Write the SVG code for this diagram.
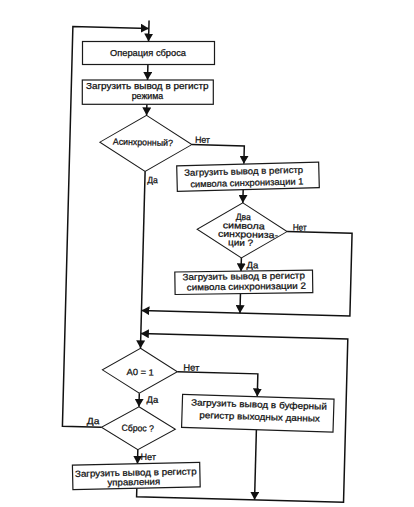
<svg xmlns="http://www.w3.org/2000/svg" width="414" height="507" viewBox="0 0 414 507">
<style>
.box{fill:#fff;stroke:#1a1a1a;stroke-width:1.2}
.dia{fill:#fff;stroke:#1a1a1a;stroke-width:1}
.ln{fill:none;stroke:#111;stroke-width:1.5}
.arr{marker-end:url(#ah)}
text{font-family:"Liberation Sans",Arial,sans-serif;font-size:9px;fill:#111;stroke:#111;stroke-width:0.25}
.c{text-anchor:middle}
</style>
<defs>
<marker id="ah" markerUnits="userSpaceOnUse" markerWidth="8" markerHeight="9" refX="8" refY="4.5" orient="auto" viewBox="0 0 8 9"><path d="M0,0L8,4.5L0,9z" fill="#111"/></marker>
</defs>
<rect width="414" height="507" fill="#fff"/>
<g transform="rotate(1.5 207 253)">
<g id="connectors">
<path class="ln arr" d="M143,22V43.1"/>
<path class="ln arr" d="M143,66V81.6"/>
<path class="ln arr" d="M143,105.9V117"/>
<path class="ln arr" d="M189,145H241.5V162.9"/>
<path class="ln arr" d="M241.5,188.6V202"/>
<path class="ln arr" d="M241.5,257V270.5"/>
<path class="ln arr" d="M241.5,292.6V312.3"/>
<path class="ln arr" d="M286.5,229.5H351.5V312.3H143"/>
<path class="ln arr" d="M143,173V350"/>
<path class="ln arr" d="M180.5,372.5H261V395.1"/>
<path class="ln arr" d="M143,395V408.5"/>
<path class="ln arr" d="M261,428.6V498.5"/>
<path class="ln arr" d="M143,451.5V465.5"/>
<path class="ln arr" d="M143,490V498.5H350V335.3H143"/>
<path class="ln arr" d="M106,430H67V30H143"/>
<text x="192" y="143" textLength="15" lengthAdjust="spacingAndGlyphs">Нет</text>
<text x="145.5" y="184.5" textLength="10.5" lengthAdjust="spacingAndGlyphs">Да</text>
<text x="292" y="228" textLength="14" lengthAdjust="spacingAndGlyphs">Нет</text>
<text x="247" y="267" textLength="11.6" lengthAdjust="spacingAndGlyphs">Да</text>
<text x="186.3" y="371" textLength="16" lengthAdjust="spacingAndGlyphs">Нет</text>
<text x="150.5" y="404" textLength="11.6" lengthAdjust="spacingAndGlyphs">Да</text>
<text x="91.4" y="427" textLength="12.5" lengthAdjust="spacingAndGlyphs">Да</text>
<text x="146" y="461.5" textLength="15.3" lengthAdjust="spacingAndGlyphs">Нет</text>
</g>
<g id="d1">
<polygon class="dia" points="143,117 189,145 143,173 97,145"/>
<text class="c" x="140" y="147" textLength="60" lengthAdjust="spacingAndGlyphs">Асинхронный?</text>
</g>
<g id="d2">
<polygon class="dia" points="241.5,202 286.5,229.5 241.5,257 196.5,229.5"/>
<text class="c" x="242.3" y="219" textLength="15" lengthAdjust="spacingAndGlyphs">Два</text>
<text class="c" x="243" y="227.8" textLength="42" lengthAdjust="spacingAndGlyphs">символа</text>
<text class="c" x="247.5" y="236.4" textLength="60" lengthAdjust="spacingAndGlyphs">синхрониза-</text>
<text class="c" x="240.4" y="244.8" textLength="25" lengthAdjust="spacingAndGlyphs">ции ?</text>
</g>
<g id="d3">
<polygon class="dia" points="143,350 180.5,372.5 143,395 105.5,372.5"/>
<text class="c" x="143.4" y="377" textLength="27.3" lengthAdjust="spacingAndGlyphs">A0 = 1</text>
</g>
<g id="d4">
<polygon class="dia" points="143,408.5 180,430 143,451.5 106,430"/>
<text class="c" x="142.4" y="433" textLength="32.3" lengthAdjust="spacingAndGlyphs">Сброс ?</text>
</g>
</g>
<g id="b1">
<rect class="box" x="82.5" y="41.5" width="132" height="23"/>
<text class="c" x="148" y="55.5" textLength="76" lengthAdjust="spacingAndGlyphs">Операция сброса</text>
</g>
<g id="b2">
<rect class="box" x="82.3" y="80" width="131" height="24.3"/>
<text class="c" x="147.3" y="89.2" textLength="122.7" lengthAdjust="spacingAndGlyphs">Загрузить вывод в регистр</text>
<text class="c" x="147.5" y="98.8" textLength="31.6" lengthAdjust="spacingAndGlyphs">режима</text>
</g>
<g id="b3" transform="rotate(-1.5 248 176.7)">
<rect class="box" x="177" y="163.95" width="142" height="25.5"/>
<text class="c" x="243.8" y="174.2" textLength="119" lengthAdjust="spacingAndGlyphs">Загрузить вывод в регистр</text>
<text class="c" x="246.7" y="185.8" textLength="113" lengthAdjust="spacingAndGlyphs">символа синхронизации 1</text>
</g>
<g id="b4" transform="rotate(-0.8 243.8 282.3)">
<rect class="box" x="174.95" y="271.05" width="137.7" height="22.5"/>
<text class="c" x="243.8" y="279.3" textLength="122.3" lengthAdjust="spacingAndGlyphs">Загрузить вывод в регистр</text>
<text class="c" x="246.3" y="289.6" textLength="119.3" lengthAdjust="spacingAndGlyphs">символа синхронизации 2</text>
</g>
<g id="b5" transform="rotate(-1.2 136.3 476)">
<rect class="box" x="72.65" y="463.75" width="127.3" height="24.5"/>
<text class="c" x="135.8" y="475.6" textLength="121.7" lengthAdjust="spacingAndGlyphs">Загрузить вывод в регистр</text>
<text class="c" x="133.7" y="485" textLength="52.7" lengthAdjust="spacingAndGlyphs">управления</text>
</g>
<g id="b6" transform="rotate(1.8 257.8 413.3)">
<rect class="box" x="182.05" y="396.8" width="151.5" height="33"/>
<text class="c" x="258.7" y="407.5" textLength="136" lengthAdjust="spacingAndGlyphs">Загрузить вывод в буферный</text>
<text class="c" x="259.7" y="419.8" textLength="120.7" lengthAdjust="spacingAndGlyphs">регистр выходных данных</text>
</g>
</svg>
